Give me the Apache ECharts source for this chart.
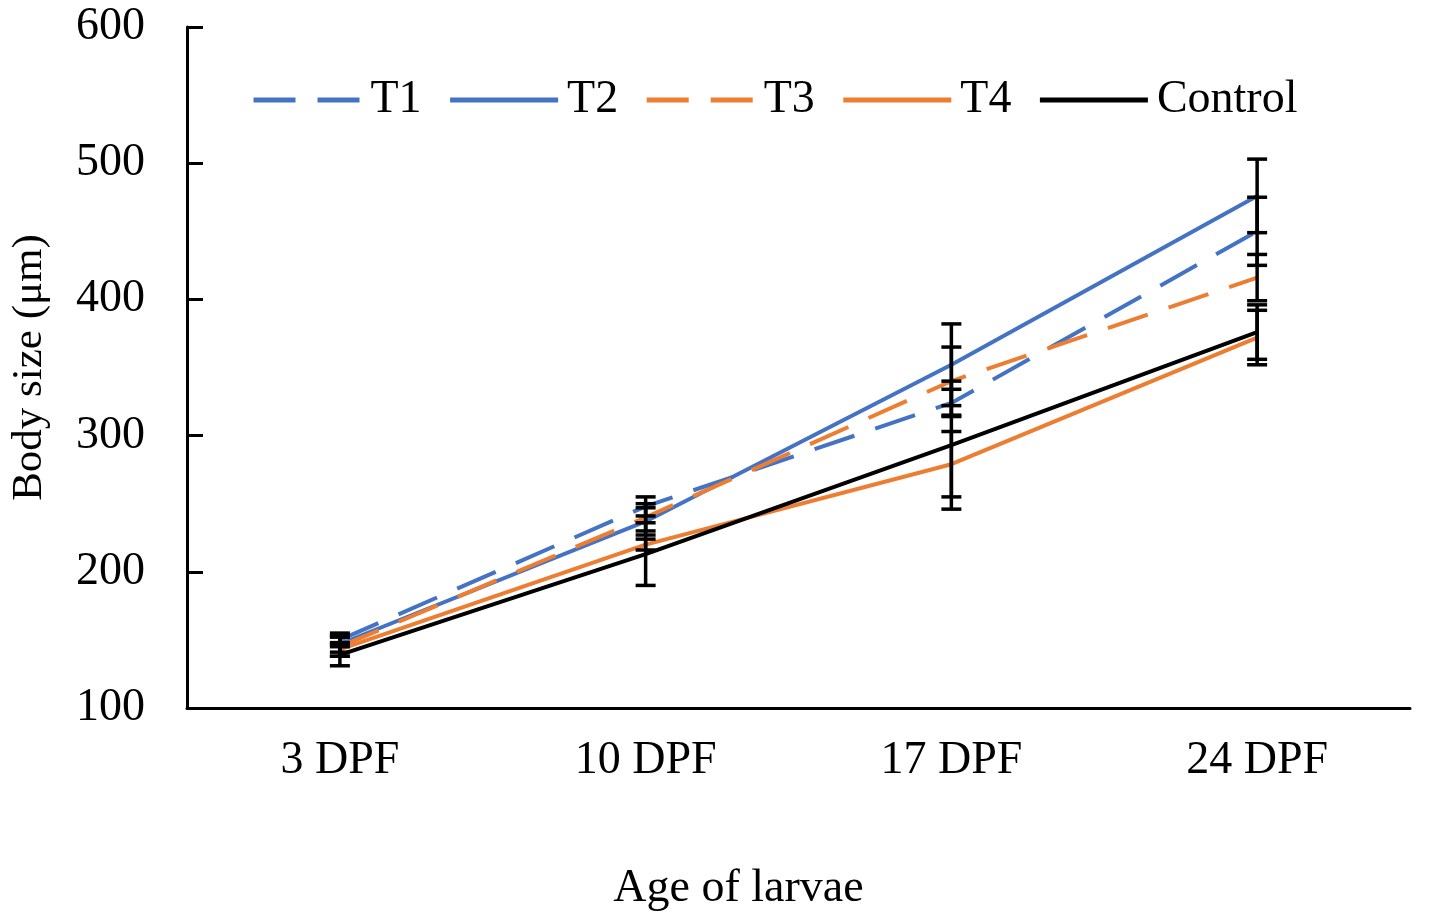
<!DOCTYPE html>
<html>
<head>
<meta charset="utf-8">
<script src="https://cdn.jsdelivr.net/npm/echarts@6/dist/echarts.min.js"></script>
<style>
  html, body { margin: 0; padding: 0; background: #fff; }
  #chart { width: 1429px; height: 917px; }
</style>
</head>
<body>
<div id="chart"></div>
<script>
// data
const categories = ['3 DPF', '10 DPF', '17 DPF', '24 DPF'];
const t1 = [150, 248, 324, 450];
const t2 = [147, 237, 352, 476];
const t3 = [145, 240, 340, 416];
const t4 = [143, 220, 279, 372];
const control = [139, 213, 293, 376];
// +/- error for each point
const t1Err = [5, 7, 10, 25];
const t2Err = [6, 10, 30, 27];
const t3Err = [7, 10, 25, 17];
const t4Err = [5, 4, 24, 20];
const controlErr = [8, 23, 47, 20];
const yTicks = [100, 200, 300, 400, 500, 600];

const blue = '#4472C4';
const orange = '#ED7D31';
const font = '"Liberation Serif", "Times New Roman", serif';

const chart = echarts.init(document.getElementById('chart'));

function lineSeries(name, data, color, dashed) {
  return {
    name: name,
    type: 'line',
    data: data,
    symbol: 'none',
    z: 2,
    lineStyle: { color: color, width: 4, type: dashed ? [42, 22] : 'solid' },
    itemStyle: { color: color }
  };
}

// error bars: [category index, value, low, high]
const errData = [];
[[t1, t1Err], [t2, t2Err], [t3, t3Err], [t4, t4Err], [control, controlErr]].forEach(function (pair) {
  pair[0].forEach(function (v, i) {
    errData.push([i, v, v - pair[1][i], v + pair[1][i]]);
  });
});

chart.setOption({
  animation: false,
  grid: { left: 184, right: 19, top: 27, bottom: 208 },
  legend: {
    data: ['T1', 'T2', 'T3', 'T4', 'Control'],
    left: 246,
    top: 72,
    itemWidth: 108,
    itemHeight: 14,
    itemGap: 26,
    itemStyle: { opacity: 0 },
    lineStyle: { width: 5 },
    textStyle: { fontFamily: font, fontSize: 46, color: '#000', padding: [0, 0, 0, 4] }
  },
  xAxis: {
    type: 'category',
    data: categories,
    boundaryGap: true,
    name: 'Age of larvae',
    nameLocation: 'middle',
    nameGap: 158,
    nameTextStyle: { fontFamily: font, fontSize: 46, color: '#000', padding: [0, 120, 0, 0] },
    axisLine: { lineStyle: { color: '#000', width: 3 } },
    axisTick: { inside: true, length: 18, lineStyle: { color: '#000', width: 3 } },
    axisLabel: { fontFamily: font, fontSize: 46, color: '#000', margin: 30 },
    splitLine: { show: false }
  },
  yAxis: {
    type: 'value',
    min: yTicks[0],
    max: yTicks[yTicks.length - 1],
    interval: 100,
    name: 'Body size (μm)',
    nameLocation: 'middle',
    nameGap: 136,
    nameRotate: 90,
    nameTextStyle: { fontFamily: font, fontSize: 43, color: '#000' },
    axisLine: { show: true, lineStyle: { color: '#000', width: 3 } },
    axisTick: { show: true, inside: true, length: 16, lineStyle: { color: '#000', width: 3 } },
    axisLabel: { fontFamily: font, fontSize: 46, color: '#000', margin: 42 },
    splitLine: { show: false }
  },
  series: [
    lineSeries('T1', t1, blue, true),
    lineSeries('T2', t2, blue, false),
    lineSeries('T3', t3, orange, true),
    lineSeries('T4', t4, orange, false),
    lineSeries('Control', control, '#000', false),
    {
      name: 'err',
      type: 'custom',
      z: 5,
      data: errData,
      encode: { x: 0, y: [2, 3] },
      renderItem: function (params, api) {
        const lo = api.coord([api.value(0), api.value(2)]);
        const hi = api.coord([api.value(0), api.value(3)]);
        const w = 10;
        const st = { stroke: '#000', lineWidth: 3.5, fill: null };
        return {
          type: 'group',
          children: [
            { type: 'line', shape: { x1: lo[0], y1: lo[1], x2: hi[0], y2: hi[1] }, style: st },
            { type: 'line', shape: { x1: lo[0] - w, y1: lo[1], x2: lo[0] + w, y2: lo[1] }, style: st },
            { type: 'line', shape: { x1: hi[0] - w, y1: hi[1], x2: hi[0] + w, y2: hi[1] }, style: st }
          ]
        };
      }
    }
  ]
});
</script>
</body>
</html>
